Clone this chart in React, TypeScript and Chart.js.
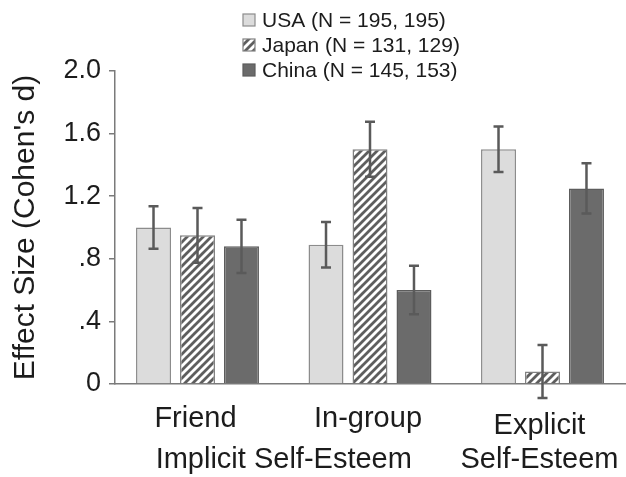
import { useEffect, useRef } from "react";
import { Chart, registerables } from "chart.js";

Chart.register(...registerables);

const categories = ["Friend", "In-group", "Explicit Self-Esteem"];
const categoryLines = [["Friend"], ["In-group"], ["Explicit", "Self-Esteem"]];
const groupLabel = "Implicit Self-Esteem";
const seriesLabels = ["USA (N = 195, 195)", "Japan (N = 131, 129)", "China (N = 145, 153)"];
const usaValues = [1.0, 0.89, 1.5];
const usaErrors = [0.135, 0.145, 0.145];
const japanValues = [0.95, 1.5, 0.08];
const japanErrors = [0.175, 0.175, 0.17];
const chinaValues = [0.88, 0.6, 1.25];
const chinaErrors = [0.17, 0.155, 0.16];
const yTickValues = [0, 0.4, 0.8, 1.2, 1.6, 2.0];
const yTickLabels = ["0", ".4", ".8", "1.2", "1.6", "2.0"];
const yAxisTitle = "Effect Size (Cohen's d)";

const FONT = '"Liberation Sans", Arial, Helvetica, sans-serif';
const TEXT = "#1c1c1c";
const AXIS = "#7a7a7a";
const ERR = "#5a5a5a";

function makeHatch(): CanvasPattern | string {
  const c = document.createElement("canvas");
  c.width = 8;
  c.height = 8;
  const g = c.getContext("2d");
  if (!g) return "#999";
  g.fillStyle = "#ffffff";
  g.fillRect(0, 0, 8, 8);
  g.strokeStyle = "#5e5e5e";
  g.lineWidth = 2.8;
  g.beginPath();
  g.moveTo(-2, 10);
  g.lineTo(10, -2);
  g.moveTo(-6, 6);
  g.lineTo(6, -6);
  g.moveTo(2, 14);
  g.lineTo(14, 2);
  g.stroke();
  const p = g.createPattern(c, "repeat");
  return p || "#999";
}

const errorSets = [usaErrors, japanErrors, chinaErrors];

const errorBarPlugin = {
  id: "errorBars",
  afterDatasetsDraw(chart: any) {
    const ctx = chart.ctx;
    const ys = chart.scales.y;
    ctx.save();
    ctx.strokeStyle = ERR;
    ctx.lineWidth = 2.5;
    chart.data.datasets.forEach((ds: any, di: number) => {
      const meta = chart.getDatasetMeta(di);
      meta.data.forEach((el: any, i: number) => {
        const v = ds.data[i].y;
        const e = errorSets[di][i];
        const x = el.x;
        const yt = ys.getPixelForValue(v + e);
        const yb = ys.getPixelForValue(v - e);
        ctx.beginPath();
        ctx.moveTo(x, yt);
        ctx.lineTo(x, yb);
        ctx.moveTo(x - 5, yt);
        ctx.lineTo(x + 5, yt);
        ctx.moveTo(x - 5, yb);
        ctx.lineTo(x + 5, yb);
        ctx.stroke();
      });
    });
    ctx.restore();
  },
};

const labelPlugin = {
  id: "xLabels",
  afterDraw(chart: any) {
    const ctx = chart.ctx;
    const xs = chart.scales.x;
    const base = chart.chartArea.bottom;
    ctx.save();
    ctx.fillStyle = TEXT;
    ctx.font = `29px ${FONT}`;
    ctx.textAlign = "center";
    ctx.textBaseline = "alphabetic";
    categoryLines.forEach((lines, i) => {
      const x = xs.getPixelForValue(i);
      if (lines.length === 1) ctx.fillText(lines[0], x - 2, base + 43);
      else lines.forEach((l, j) => ctx.fillText(l, x - 3, base + 50 + j * 34));
    });
    const gx = (xs.getPixelForValue(0) + xs.getPixelForValue(1)) / 2;
    ctx.fillText(groupLabel, gx, base + 84);
    ctx.restore();
  },
};

const legendPlugin = {
  id: "customLegend",
  afterDraw(chart: any) {
    const ctx = chart.ctx;
    ctx.save();
    ctx.font = `21px ${FONT}`;
    ctx.textBaseline = "middle";
    ctx.textAlign = "left";
    chart.data.datasets.forEach((ds: any, i: number) => {
      const cy = 20 + i * 25;
      const bx = 243;
      const s = 12;
      ctx.fillStyle = ds.backgroundColor;
      ctx.fillRect(bx, cy - s / 2, s, s);
      ctx.strokeStyle = ds.borderColor;
      ctx.lineWidth = 1.2;
      ctx.strokeRect(bx, cy - s / 2, s, s);
      ctx.fillStyle = TEXT;
      ctx.fillText(ds.label, 262, cy + 1);
    });
    ctx.restore();
  },
};

export default function App() {
  const ref = useRef<HTMLCanvasElement | null>(null);
  useEffect(() => {
    document.body.style.margin = "0";
    const canvas = ref.current;
    if (!canvas) return;
    const hatch = makeHatch();
    const toPts = (vals: number[]) => vals.map((v, i) => ({ x: i, y: v }));
    const unit = 172.5;
    const leftOff = 82.5;
    const chartW = 626 - 115;
    const xMin = -leftOff / unit;
    const xMax = xMin + chartW / unit;
    const chart = new Chart(canvas, {
      type: "bar",
      data: {
        labels: categories,
        datasets: [
          {
            label: seriesLabels[0],
            data: toPts(usaValues),
            backgroundColor: "#dcdcdc",
            borderColor: "#8c8c8c",
            borderWidth: 1.5,
          },
          {
            label: seriesLabels[1],
            data: toPts(japanValues),
            backgroundColor: hatch as any,
            borderColor: "#808080",
            borderWidth: 1.5,
          },
          {
            label: seriesLabels[2],
            data: toPts(chinaValues),
            backgroundColor: "#6b6b6b",
            borderColor: "#5c5c5c",
            borderWidth: 1.5,
          },
        ],
      },
      options: {
        animation: false,
        responsive: false,
        devicePixelRatio: 1,
        categoryPercentage: 0.765,
        barPercentage: 0.795,
        layout: { padding: { top: 71, left: 0, right: 0, bottom: 0 } },
        plugins: {
          legend: { display: false },
          tooltip: { enabled: false },
        },
        scales: {
          x: {
            type: "linear",
            offset: false,
            min: xMin,
            max: xMax,
            afterBuildTicks: (s: any) => {
              s.ticks = categories.map((_, i) => ({ value: i }));
            },
            ticks: { display: false },
            grid: { display: false, offset: false },
            border: { display: true, color: AXIS, width: 1.5 },
            afterFit: (s: any) => {
              s.height = 93;
            },
          },
          y: {
            min: 0,
            max: 2.0,
            afterBuildTicks: (s: any) => {
              s.ticks = yTickValues.map((v) => ({ value: v }));
            },
            ticks: {
              color: TEXT,
              font: { family: FONT, size: 27 },
              padding: 8,
              callback: (value: any) => {
                const i = yTickValues.findIndex((t) => Math.abs(t - Number(value)) < 1e-6);
                return i >= 0 ? yTickLabels[i] : "";
              },
            },
            grid: {
              display: true,
              drawOnChartArea: false,
              drawTicks: true,
              tickLength: 6,
              color: AXIS,
              lineWidth: 1.5,
            },
            border: { display: true, color: AXIS, width: 1.5 },
            title: {
              display: true,
              text: yAxisTitle,
              color: TEXT,
              font: { family: FONT, size: 30 },
              padding: { top: 8, bottom: 0 },
            },
            afterFit: (s: any) => {
              s.width = 115;
            },
          },
        },
      } as any,
      plugins: [errorBarPlugin, labelPlugin, legendPlugin],
    });
    return () => chart.destroy();
  }, []);
  return (
    <div style={{ width: 626, height: 477 }}>
      <canvas ref={ref} width={626} height={477} style={{ display: "block" }} />
    </div>
  );
}
